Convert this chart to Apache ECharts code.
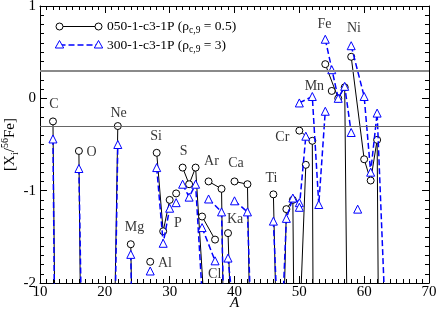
<!DOCTYPE html>
<html><head><meta charset="utf-8">
<script src="https://cdn.jsdelivr.net/npm/echarts@6/dist/echarts.min.js"></script>
<style>html,body{margin:0;padding:0;background:#fff}#c{width:436px;height:311px}</style>
</head><body><div id="c"></div>
<script>
// ---- data ----
const elementNames = ['C','O','Ne','Mg','Al','Si','P','S','Cl','Ar','K','Ca','Ti','V','Cr','Mn','Fe','Co','Ni'];
const massNumbers = [[12,13],[16,17],[21,22],[24,25],[27],[28,29,30],[31],[32,33,34,36],[35,37],[36,38,40],[39,41],[40,42,43],[46,47,48,49,50],[50,51],[50,52,53,54],[55],[54,56,57,58],[59],[58,60,61,62,64]];
// model 050-1-c3-1P (rho_c,9 = 0.5)
const yields050 = [[-0.25,-7.5],[-0.57,-7.7],[-4.55,-0.30],[-1.58,-5.8],[-1.77],[-0.59,-1.44,-1.10],[-1.03],[-0.75,-0.93,-0.75,-3.0],[-1.28,-1.53],[-0.90,-0.98,-11],[-1.46,-5.8],[-0.90,-0.93,-5.2],[-1.04,-4.2,-1.20,-1.10,-9],[-2.55,-0.72],[-0.35,-0.46,-15,-15],[0.08],[0.37,0,0.12,-6.9],[-2.6],[0.45,-0.66,-0.89,-0.45,-20]];
// model 300-1-c3-1P (rho_c,9 = 3)
const yields300 = [[-0.44,-8.2],[-0.76,-4.9],[-4.9,-0.50],[-1.69,-5.6],[-1.87],[-0.75,-1.57,-1.19],[-1.13],[-0.93,-1.07,-0.93,-3.3],[-1.40,-1.76],[-1.09,-1.23,-7.6],[-1.73,-3.1],[-1.11,-1.23,-3.4],[-1.33,-3.0,-1.30,-1.08,-1.13],[-1.18,-0.41],[-0.05,0.02,-1.15,-0.14],[0.31],[0.64,0,0.13,-0.37],[-1.20],[0.57,0.02,-0.80,-0.16,-3.67]];
const refLines = [0.3, -0.3];
const labelText = ['C','O','Ne','Mg','Al','Si','P','S','Cl','Ar','Ka','Ca','Ti','Cr','Mn','Fe','Ni'];
const labelA    = [12.13,17.95,22.12,24.59,29.28,27.89,31.28,32.16,36.95,36.44,40.09,40.22,45.71,47.38,52.32,53.89,58.42];
const labelY    = [-0.065,-0.58,-0.163,-1.396,-1.79,-0.409,-1.349,-0.579,-1.909,-0.687,-1.312,-0.709,-0.861,-0.42,0.133,0.80,0.76];
const xMin = 10, xMax = 70, xStep = 10;
const yMin = -2, yMax = 1, yStep = 1;
const legendNames = ['050-1-c3-1P (ρ{s|c,9} = 0.5)', '300-1-c3-1P (ρ{s|c,9} = 3)'];

// ---- chart ----
const FF = "'Liberation Serif','Times New Roman',serif";
const BLUE = '#0000ff';
const chart = echarts.init(document.getElementById('c'), null, {renderer:'canvas'});

function axisCommon(showLabel){
  return {
    axisLine:{show:true, onZero:false, lineStyle:{color:'#000', width:1}},
    axisTick:{show:true, inside:true, length:7, lineStyle:{color:'#000', width:1}},
    minorTick:{show:true, splitNumber:10, length:4, lineStyle:{color:'#000', width:1}},
    splitLine:{show:false}, minorSplitLine:{show:false},
    axisLabel:{show:showLabel, color:'#000', fontFamily:FF, fontSize:15}
  };
}

const series = [];
elementNames.forEach((el,i)=>{
  series.push({
    type:'line', name:'050 '+el, xAxisIndex:0, yAxisIndex:0,
    data: massNumbers[i].map((a,j)=>[a, yields050[i][j]]),
    symbol:'circle', symbolSize:7, showSymbol:true,
    itemStyle:{color:'#fff', borderColor:'#000', borderWidth:1},
    lineStyle:{color:'#000', width:1},
    clip:true, animation:false, emphasis:{disabled:true}, z:3
  });
});
elementNames.forEach((el,i)=>{
  series.push({
    type:'line', name:'300 '+el, xAxisIndex:0, yAxisIndex:0,
    data: massNumbers[i].map((a,j)=>[a, yields300[i][j]]),
    symbol:'triangle', symbolSize:8, showSymbol:true,
    itemStyle:{color:'#fff', borderColor:BLUE, borderWidth:1},
    lineStyle:{color:BLUE, width:1.5, type:[6,3]},
    clip:true, animation:false, emphasis:{disabled:true}, z:4
  });
});
// reference lines
series.push({
  type:'line', name:'ref', data:[], xAxisIndex:0, yAxisIndex:0, z:1,
  markLine:{silent:true, symbol:['none','none'], label:{show:false}, animation:false,
    data:[
      {yAxis:refLines[0], lineStyle:{color:'#8a8a8a', width:2, type:'solid'}},
      {yAxis:refLines[1], lineStyle:{color:'#666', width:1, type:'solid'}}
    ]}
});
// element labels
series.push({
  type:'scatter', name:'labels', xAxisIndex:0, yAxisIndex:0, z:5,
  data: labelText.map((t,i)=>({name:t, value:[labelA[i], labelY[i]]})),
  symbolSize:1, itemStyle:{color:'rgba(0,0,0,0)'}, animation:false, emphasis:{disabled:true},
  label:{show:true, position:'inside', formatter:p=>p.name, color:'#000', fontFamily:FF, fontSize:14}
});

function legendGraphics(){
  const g = [];
  const x1 = 59.5, x2 = 98.5, y1 = 26.5, y2 = 45;
  g.push({type:'line', shape:{x1:x1,y1:y1,x2:x2,y2:y1}, style:{stroke:'#000', lineWidth:1}, z:10});
  [x1,x2].forEach(x=>g.push({type:'circle', shape:{cx:x, cy:y1, r:3.5}, style:{fill:'#fff', stroke:'#000', lineWidth:1}, z:11}));
  g.push({type:'line', shape:{x1:x1,y1:y2,x2:x2,y2:y2}, style:{stroke:BLUE, lineWidth:1.5, lineDash:[6,3]}, z:10});
  [x1,x2].forEach(x=>g.push({type:'polygon', shape:{points:[[x,y2-4.5],[x+4.2,y2+3],[x-4.2,y2+3]]}, style:{fill:'#fff', stroke:BLUE, lineWidth:1}, z:11}));
  [y1,y2].forEach((y,i)=>g.push({type:'text', x:107, y:y, z:12, style:{
    text:legendNames[i], fill:'#000', fontFamily:FF, fontSize:13.5, verticalAlign:'middle', align:'left',
    rich:{s:{fontFamily:FF, fontSize:9.5, verticalAlign:'bottom', lineHeight:18, fill:'#000'}}
  }}));
  return g;
}

chart.setOption({
  animation:false,
  backgroundColor:'#fff',
  grid:{left:40, top:6, width:389, height:277, containLabel:false, outerBoundsMode:'none'},
  xAxis:[
    Object.assign({type:'value', position:'bottom', min:xMin, max:xMax, interval:xStep,
      name:'A', nameLocation:'middle', nameGap:13, nameMoveOverlap:false,
      nameTextStyle:{fontFamily:FF, fontSize:15, fontStyle:'italic', color:'#000'}}, axisCommon(true),
      {axisLabel:{show:true, color:'#000', fontFamily:FF, fontSize:15, margin:2}}),
    Object.assign({type:'value', position:'top', min:xMin, max:xMax, interval:xStep}, axisCommon(false))
  ],
  yAxis:[
    Object.assign({type:'value', position:'left', min:yMin, max:yMax, interval:yStep,
      name:'[X{sub|i}/{sup|56}Fe]', nameLocation:'middle', nameGap:20, nameMoveOverlap:false,
      nameTextStyle:{fontFamily:FF, fontSize:15, color:'#000', lineHeight:20,
        rich:{sub:{fontFamily:FF, fontSize:10, verticalAlign:'bottom', color:'#000'},
              sup:{fontFamily:FF, fontSize:10, verticalAlign:'top', color:'#000'}}}}, axisCommon(true),
      {axisLabel:{show:true, color:'#000', fontFamily:FF, fontSize:15, margin:4}}),
    Object.assign({type:'value', position:'right', min:yMin, max:yMax, interval:yStep}, axisCommon(false))
  ],
  series: series,
  graphic: legendGraphics()
});
</script></body></html>
